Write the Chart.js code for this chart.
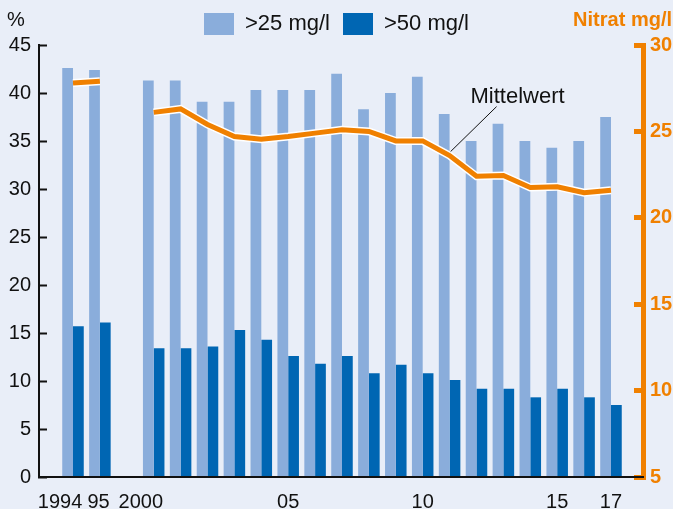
<!DOCTYPE html>
<html>
<head>
<meta charset="utf-8">
<script src="https://cdn.jsdelivr.net/npm/chart.js@4.4.0/dist/chart.umd.min.js"></script>
<style>
  body { margin: 0; background: #e9eef8; }
  #wrap { width: 673px; height: 509px; }
</style>
</head>
<body>
<div id="wrap"><canvas id="nitratChart" width="673" height="509"></canvas></div>
<script>
// null = Lücke zwischen 1995 und 2000
const years = [1994, 1995, null, 2000, 2001, 2002, 2003, 2004, 2005, 2006, 2007,
    2008, 2009, 2010, 2011, 2012, 2013, 2014, 2015, 2016, 2017];
const over25 = [42.6, 42.4, null, 41.3, 41.3, 39.1, 39.1, 40.3, 40.3, 40.3, 42.0,
    38.3, 40.0, 41.7, 37.8, 35.0, 36.8, 35.0, 34.3, 35.0, 37.5];
const over50 = [15.7, 16.1, null, 13.4, 13.4, 13.6, 15.3, 14.3, 12.6, 11.8, 12.6,
    10.8, 11.7, 10.8, 10.1, 9.2, 9.2, 8.3, 9.2, 8.3, 7.5];
const nitratMean = [27.8, 27.9, null, 26.1, 26.3, 25.4, 24.7, 24.55, 24.7, 24.9, 25.1,
    25.0, 24.45, 24.45, 23.6, 22.4, 22.45, 21.75, 21.8, 21.45, 21.6];
const tickYears = [1994, 1995, 2000, 2005, 2010, 2015, 2017];
const tickLabels = ['1994', '95', '2000', '05', '10', '15', '17'];

const FONT = '"Liberation Sans", Arial, sans-serif';
const ORANGE = '#f08000';
const LIGHT = '#8aaddb';
const DARK = '#0066b3';

function toPoints(values) {
    return values.map((v, i) => ({ x: i, y: v }));
}

// shift crowded labels a bit to the left, like in the print version
const labelNudge = { '1994': -0.48, '2000': -0.48, '95': -0.05 };

const annotations = {
    id: 'annotations',
    afterDraw(chart) {
        const { ctx, chartArea, scales } = chart;
        ctx.save();
        ctx.textBaseline = 'alphabetic';
        ctx.font = '20px ' + FONT;
        ctx.fillStyle = '#111';
        ctx.textAlign = 'left';
        ctx.fillText('%', 7, chartArea.top - 19);

        ctx.font = 'bold 20px ' + FONT;
        ctx.fillStyle = ORANGE;
        ctx.textAlign = 'right';
        ctx.fillText('Nitrat mg/l', chart.width - 1, chartArea.top - 19);

        // Mittelwert label with leader line
        const i = years.indexOf(2011);
        const px = scales.x.getPixelForValue(i);
        const py = scales.y1.getPixelForValue(nitratMean[i]);
        ctx.strokeStyle = '#111';
        ctx.lineWidth = 1;
        ctx.beginPath();
        ctx.moveTo(px + 1, py - 4);
        ctx.lineTo(px + 47, py - 49);
        ctx.stroke();
        ctx.font = '22px ' + FONT;
        ctx.fillStyle = '#111';
        ctx.textAlign = 'center';
        ctx.fillText('Mittelwert', px + 68, py - 53);
        ctx.restore();
    }
};

new Chart(document.getElementById('nitratChart').getContext('2d'), {
    type: 'bar',
    data: {
        datasets: [{
            label: '>25 mg/l',
            data: toPoints(over25),
            backgroundColor: LIGHT,
            borderWidth: 0,
            yAxisID: 'y',
            order: 2
        }, {
            label: '>50 mg/l',
            data: toPoints(over50),
            backgroundColor: DARK,
            borderWidth: 0,
            yAxisID: 'y',
            order: 2
        }, {
            type: 'line',
            label: 'Mittelwert',
            data: toPoints(nitratMean),
            borderColor: ORANGE,
            borderWidth: 5,
            borderCapStyle: 'butt',
            pointRadius: 0,
            spanGaps: false,
            yAxisID: 'y1',
            order: 0
        }, {
            type: 'line',
            label: 'outline',
            data: toPoints(nitratMean),
            borderColor: '#ffffff',
            borderWidth: 8,
            borderCapStyle: 'butt',
            pointRadius: 0,
            spanGaps: false,
            yAxisID: 'y1',
            order: 1
        }]
    },
    options: {
        responsive: false,
        animation: false,
        layout: { padding: 0 },
        categoryPercentage: 0.8,
        barPercentage: 1.0,
        plugins: {
            tooltip: { enabled: false },
            legend: {
                position: 'top',
                labels: {
                    boxWidth: 30,
                    boxHeight: 22,
                    padding: 13,
                    color: '#111',
                    font: { family: FONT, size: 22 },
                    filter: item => item.datasetIndex < 2
                }
            }
        },
        scales: {
            x: {
                type: 'linear',
                offset: false,
                min: -1.264,
                max: 21.19,
                grid: { display: false, drawTicks: false },
                border: { display: true, color: '#111', width: 2, z: 1 },
                afterBuildTicks: scale => {
                    scale.ticks = tickYears.map((y, k) => ({
                        value: years.indexOf(y) + (labelNudge[tickLabels[k]] || 0)
                    }));
                },
                afterFit: scale => { scale.height = 32; },
                ticks: {
                    autoSkip: false,
                    maxRotation: 0,
                    padding: 13,
                    color: '#111',
                    font: { family: FONT, size: 20 },
                    callback: (value, index) => tickLabels[index]
                }
            },
            y: {
                position: 'left',
                min: 0,
                max: 45,
                grid: {
                    drawOnChartArea: false,
                    drawTicks: true,
                    tickLength: -8,
                    tickWidth: 2,
                    tickColor: '#111'
                },
                border: { display: true, color: '#111', width: 2 },
                afterFit: scale => { scale.width = 39; },
                ticks: {
                    stepSize: 5,
                    padding: 16,
                    color: '#111',
                    font: { family: FONT, size: 20 }
                }
            },
            y1: {
                position: 'right',
                min: 5,
                max: 30,
                grid: {
                    drawOnChartArea: false,
                    drawTicks: true,
                    tickLength: -9,
                    tickWidth: 5,
                    tickColor: ORANGE
                },
                border: { display: true, color: ORANGE, width: 5 },
                afterFit: scale => { scale.width = 30; },
                ticks: {
                    stepSize: 5,
                    padding: 16,
                    color: ORANGE,
                    font: { family: FONT, size: 20, weight: 'bold' }
                }
            }
        }
    },
    plugins: [annotations]
});
</script>
</body>
</html>
